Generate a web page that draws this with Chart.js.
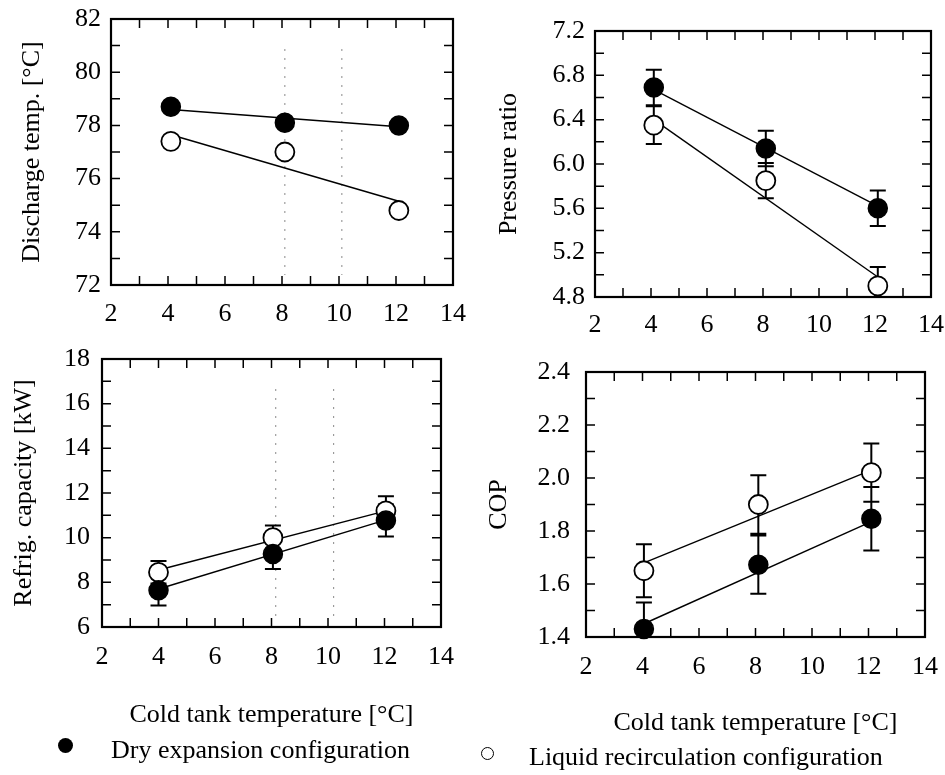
<!DOCTYPE html>
<html>
<head>
<meta charset="utf-8">
<script src="https://cdn.jsdelivr.net/npm/chart.js@4.4.1/dist/chart.umd.min.js"></script>
<style>
  body { margin: 0; background: #fff; }
  #page { position: relative; width: 945px; height: 775px; overflow: hidden; background: #fff;
          font-family: "Liberation Serif", "Times New Roman", serif; color: #000; }
  canvas { position: absolute; }
  .legend { position: absolute; font-size: 26px; line-height: 30px; white-space: nowrap; transform: translateY(-50%); }
  .dot { position: absolute; border-radius: 50%; box-sizing: border-box; }
</style>
</head>
<body>
<div id="page">
  <canvas id="discharge" width="470" height="340" style="left:0;top:0"></canvas>
  <canvas id="pressure" width="475" height="345" style="left:470px;top:0"></canvas>
  <canvas id="capacity" width="470" height="405" style="left:0;top:340px"></canvas>
  <canvas id="cop" width="475" height="405" style="left:470px;top:340px"></canvas>

  <div class="dot" style="left:58px;top:738px;width:15px;height:15px;background:#000"></div>
  <div class="legend" style="left:111px;top:750px">Dry expansion configuration</div>
  <div class="dot" style="left:481px;top:747px;width:13px;height:13px;border:1.5px solid #000;background:#fff"></div>
  <div class="legend" style="left:529px;top:757px">Liquid recirculation configuration</div>
</div>

<script>
// Four panels: compressor discharge temp, pressure ratio, capacity and COP
// against the cold tank temperature, for the two evaporator configurations.

const FONT = '"Liberation Serif", "Times New Roman", serif';
Chart.defaults.font.family = FONT;
Chart.defaults.font.size = 26;
Chart.defaults.color = '#000';
Chart.defaults.animation = false;

// cold tank temperature of each measured point [°C]
const tempDischarge = [4.1, 8.1, 12.1];
const tempPressure = [4.1, 8.1, 12.1];
const tempCapacity = [4.0, 8.05, 12.05];
const tempCop = [4.05, 8.1, 12.1];
const xTicks = [2, 4, 6, 8, 10, 12, 14];

// discharge temperature [°C]
const dischargeDry = [78.7, 78.1, 78.0];
const dischargeLiquid = [77.4, 77.0, 74.8];
const dischargeFitDry = [78.6, 77.95];
const dischargeFitLiquid = [77.65, 75.15];
const dischargeTicks = [72, 74, 76, 78, 80, 82];

// pressure ratio
const pressureDry = [6.69, 6.14, 5.60];
const pressureDryErr = [0.16, 0.16, 0.16];
const pressureLiquid = [6.35, 5.85, 4.90];
const pressureLiquidErr = [0.17, 0.16, 0.17];
const pressureFitDry = [6.67, 5.62];
const pressureFitLiquid = [6.40, 4.98];
const pressureTicks = [4.8, 5.2, 5.6, 6.0, 6.4, 6.8, 7.2];

// refrigerating capacity [kW]
const capacityDry = [7.64, 9.27, 10.77];
const capacityDryErr = [0.68, 0.67, 0.72];
const capacityLiquid = [8.45, 10.0, 11.2];
const capacityLiquidErr = [0.5, 0.55, 0.66];
const capacityFitDry = [7.7, 10.8];
const capacityFitLiquid = [8.55, 11.2];
const capacityTicks = [6, 8, 10, 12, 14, 16, 18];

// coefficient of performance
const copDry = [1.43, 1.673, 1.846];
const copDryErr = [0.1, 0.11, 0.12];
const copLiquid = [1.65, 1.90, 2.02];
const copLiquidErr = [0.1, 0.11, 0.11];
const copFitDry = [1.45, 1.835];
const copFitLiquid = [1.68, 2.03];
const copTicks = [1.4, 1.6, 1.8, 2.0, 2.2, 2.4];

const points = (xs, ys) => ys.map((y, i) => ({ x: xs[i], y }));
const fitLine = (xs, ends) => [{ x: xs[0], y: ends[0] }, { x: xs[xs.length - 1], y: ends[1] }];

// box around the plot, inward ticks on all four sides, faint dotted guides
const framePlugin = {
  id: 'frame',
  beforeDatasetsDraw(chart, args, opts) {
    const { ctx, chartArea: a, scales: { x, y } } = chart;
    ctx.save();

    if (opts.dotted) {
      ctx.strokeStyle = '#8a8a8a';
      ctx.lineWidth = 1;
      ctx.setLineDash([2, 7]);
      ctx.beginPath();
      opts.dotted.forEach(v => {
        const px = x.getPixelForValue(v);
        ctx.moveTo(px, a.top + 30);
        ctx.lineTo(px, a.bottom - 10);
      });
      ctx.stroke();
      ctx.setLineDash([]);
    }

    ctx.strokeStyle = '#000';
    ctx.lineWidth = 1.5;
    ctx.beginPath();
    const nx = Math.round((x.max - x.min) / opts.xMinor);
    for (let i = 1; i < nx; i++) {
      const px = x.getPixelForValue(x.min + i * opts.xMinor);
      ctx.moveTo(px, a.bottom); ctx.lineTo(px, a.bottom - 9);
      ctx.moveTo(px, a.top); ctx.lineTo(px, a.top + 9);
    }
    const ny = Math.round((y.max - y.min) / opts.yMinor);
    for (let i = 1; i < ny; i++) {
      const py = y.getPixelForValue(y.min + i * opts.yMinor);
      ctx.moveTo(a.left, py); ctx.lineTo(a.left + 9, py);
      ctx.moveTo(a.right, py); ctx.lineTo(a.right - 9, py);
    }
    ctx.stroke();

    ctx.lineWidth = 2.2;
    ctx.strokeRect(a.left, a.top, a.right - a.left, a.bottom - a.top);
    ctx.restore();
  }
};

// vertical error bars with caps, drawn under the markers
const errorBarPlugin = {
  id: 'errorBars',
  beforeDatasetsDraw(chart, args, opts) {
    if (!opts.series) return;
    const { ctx, chartArea: a, scales: { x, y } } = chart;
    ctx.save();
    ctx.beginPath();
    ctx.rect(a.left, a.top, a.right - a.left, a.bottom - a.top);
    ctx.clip();
    ctx.strokeStyle = '#000';
    ctx.lineWidth = 2;
    ctx.beginPath();
    opts.series.forEach(s => {
      s.values.forEach((v, i) => {
        const px = x.getPixelForValue(s.temps[i]);
        const top = y.getPixelForValue(v + s.errors[i]);
        const bottom = y.getPixelForValue(v - s.errors[i]);
        ctx.moveTo(px, top); ctx.lineTo(px, bottom);
        ctx.moveTo(px - 8, top); ctx.lineTo(px + 8, top);
        ctx.moveTo(px - 8, bottom); ctx.lineTo(px + 8, bottom);
      });
    });
    ctx.stroke();
    ctx.restore();
  }
};

function makePanel(id, cfg) {
  const decimals = cfg.decimals || 0;
  new Chart(document.getElementById(id), {
    type: 'scatter',
    data: {
      datasets: [
        {
          label: 'Dry expansion configuration',
          data: points(cfg.temps, cfg.dry),
          pointRadius: 9.5,
          pointBackgroundColor: '#000',
          pointBorderColor: '#000',
          pointBorderWidth: 1.5,
          clip: false
        },
        {
          label: 'Liquid recirculation configuration',
          data: points(cfg.temps, cfg.liquid),
          pointRadius: 9.5,
          pointBackgroundColor: '#fff',
          pointBorderColor: '#000',
          pointBorderWidth: 1.8,
          clip: false
        },
        {
          data: fitLine(cfg.temps, cfg.fitDry),
          showLine: true,
          pointRadius: 0,
          borderColor: '#000',
          borderWidth: 1.4
        },
        {
          data: fitLine(cfg.temps, cfg.fitLiquid),
          showLine: true,
          pointRadius: 0,
          borderColor: '#000',
          borderWidth: 1.4
        }
      ]
    },
    options: {
      responsive: false,
      layout: { padding: cfg.padding },
      plugins: {
        legend: { display: false },
        tooltip: { enabled: false },
        frame: { xMinor: 1, yMinor: cfg.yMinor, dotted: cfg.dotted },
        errorBars: { series: cfg.errors }
      },
      scales: {
        x: {
          type: 'linear',
          min: 2,
          max: 14,
          grid: { display: false, drawTicks: false },
          border: { display: false },
          afterBuildTicks: s => { s.ticks = xTicks.map(v => ({ value: v })); },
          afterFit: s => {
            s.height = cfg.xHeight;
            s.paddingLeft = 0;
            s.paddingRight = 0;
          },
          ticks: { padding: cfg.xPad, maxRotation: 0, autoSkip: false },
          title: {
            display: !!cfg.xTitle,
            text: cfg.xTitle || '',
            font: { size: 26 },
            padding: { top: 0, bottom: cfg.xTitlePad || 0 }
          }
        },
        y: {
          type: 'linear',
          min: cfg.ticks[0],
          max: cfg.ticks[cfg.ticks.length - 1],
          grid: { display: false, drawTicks: false },
          border: { display: false },
          afterBuildTicks: s => { s.ticks = cfg.ticks.map(v => ({ value: v })); },
          afterFit: s => {
            s.width = cfg.yWidth;
            s.paddingTop = 0;
            s.paddingBottom = 0;
          },
          ticks: {
            padding: cfg.yPad,
            autoSkip: false,
            callback: v => Number(v).toFixed(decimals)
          },
          title: {
            display: true,
            text: cfg.yTitle,
            font: { size: 26 },
            padding: { top: cfg.yTitlePad, bottom: 0 }
          }
        }
      }
    },
    plugins: [framePlugin, errorBarPlugin]
  });
}

makePanel('discharge', {
  temps: tempDischarge,
  dry: dischargeDry,
  liquid: dischargeLiquid,
  fitDry: dischargeFitDry,
  fitLiquid: dischargeFitLiquid,
  ticks: dischargeTicks,
  yMinor: 1,
  yTitle: 'Discharge temp. [°C]',
  dotted: [8.1, 10.1],
  padding: { top: 19, right: 17, left: 0, bottom: 0 },
  yWidth: 111, yPad: 10, yTitlePad: 17,
  xHeight: 55, xPad: 14
});

makePanel('pressure', {
  temps: tempPressure,
  dry: pressureDry,
  liquid: pressureLiquid,
  fitDry: pressureFitDry,
  fitLiquid: pressureFitLiquid,
  ticks: pressureTicks,
  decimals: 1,
  yMinor: 0.2,
  yTitle: 'Pressure ratio',
  errors: [
    { temps: tempPressure, values: pressureDry, errors: pressureDryErr },
    { temps: tempPressure, values: pressureLiquid, errors: pressureLiquidErr }
  ],
  padding: { top: 31, right: 14, left: 0, bottom: 0 },
  yWidth: 125, yPad: 10, yTitlePad: 24,
  xHeight: 48, xPad: 13
});

makePanel('capacity', {
  temps: tempCapacity,
  dry: capacityDry,
  liquid: capacityLiquid,
  fitDry: capacityFitDry,
  fitLiquid: capacityFitLiquid,
  ticks: capacityTicks,
  yMinor: 1,
  yTitle: 'Refrig. capacity [kW]',
  xTitle: 'Cold tank temperature [°C]',
  dotted: [8.15, 10.2],
  errors: [
    { temps: tempCapacity, values: capacityDry, errors: capacityDryErr },
    { temps: tempCapacity, values: capacityLiquid, errors: capacityLiquidErr }
  ],
  padding: { top: 19, right: 29, left: 0, bottom: 0 },
  yWidth: 102, yPad: 12, yTitlePad: 9,
  xHeight: 118, xPad: 15, xTitlePad: 14
});

makePanel('cop', {
  temps: tempCop,
  dry: copDry,
  liquid: copLiquid,
  fitDry: copFitDry,
  fitLiquid: copFitLiquid,
  ticks: copTicks,
  decimals: 1,
  yMinor: 0.1,
  yTitle: 'COP',
  xTitle: 'Cold tank temperature [°C]',
  errors: [
    { temps: tempCop, values: copDry, errors: copDryErr },
    { temps: tempCop, values: copLiquid, errors: copLiquidErr }
  ],
  padding: { top: 32, right: 20, left: 0, bottom: 0 },
  yWidth: 116, yPad: 16, yTitlePad: 14,
  xHeight: 108, xPad: 15, xTitlePad: 6
});
</script>
</body>
</html>
